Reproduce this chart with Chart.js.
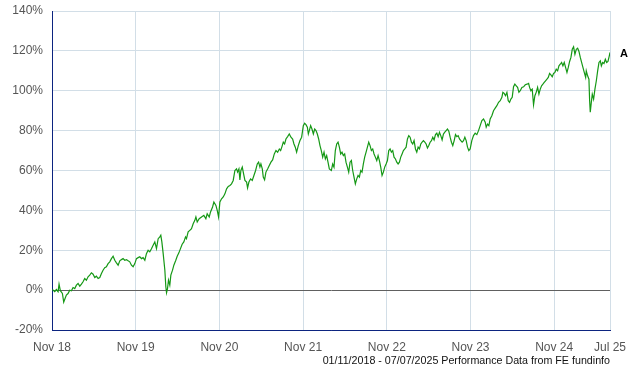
<!DOCTYPE html>
<html>
<head>
<meta charset="utf-8">
<script src="https://cdn.jsdelivr.net/npm/chart.js@4/dist/chart.umd.min.js"></script>
<style>
	body { margin: 0; background: #fff; }
	canvas { display: block; }
</style>
</head>
<body>
<canvas id="perfChart" width="640" height="370"></canvas>
<script>
// months since Nov 2018 (0 = Nov 18, 80 = Jul 25)
var months = [
	0.05, 0.39, 0.63, 0.87, 1.01, 1.20, 1.49, 1.68, 2.06, 2.30, 2.54, 2.78, 3.02, 3.26, 3.50, 3.74, 3.98, 4.22, 4.45, 4.69,
	4.93, 5.17, 5.41, 5.65, 5.89, 6.13, 6.37, 6.61, 6.85, 7.09, 7.32, 7.56, 7.80, 8.04, 8.28, 8.52, 8.76, 9.00, 9.24, 9.48,
	9.72, 9.96, 10.19, 10.43, 10.67, 10.91, 11.15, 11.39, 11.63, 11.87, 12.11, 12.35, 12.59, 12.83, 13.06, 13.31, 13.54, 13.78, 14.02, 14.26,
	14.50, 14.74, 14.98, 15.22, 15.46, 15.60, 15.75, 15.94, 16.18, 16.32, 16.42, 16.56, 16.70, 16.89, 17.04, 17.28, 17.47, 17.75, 17.95, 18.19,
	18.42, 18.66, 18.90, 19.14, 19.28, 19.52, 19.76, 20.00, 20.24, 20.48,
	20.63, 20.82, 21.10, 21.44, 21.77, 22.06, 22.25, 22.54, 22.73, 23.02, 23.21, 23.50, 23.69, 23.88, 24.07, 24.31, 24.55, 24.79, 25.03, 25.27,
	25.51, 25.74, 25.98, 26.22, 26.46, 26.61, 26.80, 26.94, 27.08, 27.28, 27.42, 27.66, 27.90, 28.04, 28.23, 28.47, 28.71, 28.95, 29.19, 29.43,
	29.62, 29.81, 29.95, 30.15, 30.29, 30.48, 30.67, 30.91, 31.15, 31.39, 31.63, 31.87, 32.11, 32.35, 32.59, 32.78, 32.97, 33.16, 33.35, 33.54,
	33.78, 34.02, 34.26, 34.50, 34.69, 34.88, 35.07, 35.31, 35.55, 35.79, 36.03, 36.22, 36.41, 36.61, 36.75, 36.89, 37.08, 37.27, 37.47, 37.66,
	37.85, 38.04, 38.23, 38.42, 38.61, 38.81, 39.00, 39.19, 39.38, 39.57, 39.76,
	40.05, 40.24, 40.43, 40.62, 40.82, 41.01, 41.20, 41.39, 41.58, 41.77, 41.96, 42.15, 42.35, 42.54, 42.73, 42.92, 43.11, 43.30, 43.49, 43.69,
	43.88, 44.07, 44.26, 44.45, 44.64, 44.83, 45.03, 45.22, 45.41, 45.60, 45.79, 45.98, 46.17, 46.36, 46.56, 46.75, 46.94, 47.13, 47.32, 47.51,
	47.70, 47.90, 48.09, 48.28, 48.47, 48.66, 48.85, 49.04, 49.24, 49.43, 49.62, 49.81, 50.00, 50.19, 50.38, 50.58, 50.77, 50.96, 51.15, 51.34,
	51.53, 51.72, 51.91, 52.11, 52.30, 52.49, 52.68, 52.87, 53.06, 53.25, 53.45, 53.64, 53.83, 54.02, 54.21, 54.40, 54.59, 54.78, 54.98, 55.17,
	55.36, 55.55, 55.74, 55.93, 56.12, 56.32, 56.51, 56.70, 56.89, 57.08, 57.27, 57.46, 57.66, 57.85, 58.04, 58.23, 58.42, 58.61, 58.80, 59.00,
	59.19, 59.38, 59.57, 59.76,
	59.95, 60.19, 60.43, 60.67, 60.91, 61.15, 61.39, 61.63, 61.87, 62.11, 62.25, 62.44, 62.63, 62.82, 63.06, 63.30, 63.54, 63.78, 64.02, 64.26,
	64.50, 64.64, 64.83, 65.02, 65.22, 65.41, 65.60, 65.79, 65.98, 66.17, 66.36, 66.56, 66.75, 66.94, 67.13, 67.37, 67.61, 67.85, 68.09, 68.33,
	68.47, 68.66, 68.85, 69.04, 69.23, 69.42, 69.62, 69.81, 70.00, 70.19, 70.38, 70.57, 70.76, 70.96, 71.15, 71.34, 71.53, 71.72, 71.91, 72.10,
	72.29, 72.49, 72.68, 72.87, 73.06, 73.25, 73.44, 73.63, 73.83, 74.02, 74.21, 74.40, 74.59, 74.78, 74.97, 75.17, 75.36, 75.55, 75.74, 75.93,
	76.12, 76.31, 76.51, 76.60, 76.79, 76.98, 77.08, 77.17, 77.32, 77.46, 77.65, 77.84, 78.04, 78.23, 78.42, 78.61, 78.76, 78.95, 79.14, 79.33,
	79.52, 79.71, 79.90, 80.00
];
// cumulative performance, %
var returns = [
	0.3, -0.8, 0.3, -0.8, 3.0, -0.3, -1.7, -6.0, -2.5, -1.7, 0, -0.3, 1.3, 0.8, 2.5, 3.3, 2.0, 3.0, 4.2, 5.8,
	5.0, 6.7, 7.5, 8.7, 8.0, 6.3, 7.0, 5.8, 6.3, 8.3, 10.0, 11.3, 11.7, 13.3, 14.2, 15.8, 17.0, 15.0, 13.7, 12.5,
	14.7, 15.3, 15.8, 15.0, 15.3, 14.7, 14.2, 12.5, 11.7, 13.3, 15.8, 16.3, 16.7, 15.8, 16.3, 15.0, 18.3, 20.0, 19.2, 20.8,
	22.5, 24.2, 20.8, 25.8, 26.7, 27.5, 24.2, 18.3, 10.0, 1.7, -1.3, 0.8, 5.0, 2.5, 7.5, 10.0, 12.5, 15.0, 17.0, 18.7,
	20.8, 23.0, 24.2, 26.7, 25.8, 29.2, 30.0, 30.8, 33.3, 35.0,
	36.7, 34.2, 35.8, 36.7, 37.5, 35.8, 38.3, 36.7, 39.2, 41.7, 44.2, 42.5, 40.0, 36.7, 44.2, 45.8, 46.7, 48.3, 50.8, 52.0,
	52.5, 53.3, 55.0, 60.0, 60.8, 59.2, 60.8, 55.3, 60.0, 61.7, 59.2, 55.0, 54.2, 51.3, 54.2, 55.8, 55.0, 57.5, 60.0, 63.3,
	64.2, 61.7, 63.3, 60.8, 56.7, 55.3, 59.2, 60.8, 62.5, 64.2, 65.3, 68.3, 70.0, 69.2, 70.8, 70.0, 72.0, 74.2, 73.3, 75.8,
	77.0, 78.3, 76.7, 75.8, 73.3, 71.7, 69.2, 72.5, 75.0, 76.7, 82.5, 83.7, 83.0, 81.7, 78.3, 80.0, 82.5, 80.8, 78.3, 80.8,
	80.0, 78.3, 75.8, 72.5, 70.0, 66.7, 69.2, 65.8, 67.5, 64.2, 60.8,
	60.0, 63.3, 61.7, 70.0, 73.3, 74.2, 71.7, 68.3, 69.2, 67.5, 68.3, 64.2, 61.7, 59.2, 64.2, 65.0, 60.0, 56.7, 53.3, 55.8,
	57.5, 56.7, 60.0, 59.2, 63.3, 66.7, 69.2, 71.7, 74.2, 72.5, 70.0, 70.8, 68.3, 66.7, 65.0, 67.5, 65.0, 61.7, 57.5, 59.2,
	61.7, 63.3, 65.0, 70.0, 70.8, 69.2, 70.0, 66.7, 65.8, 64.2, 63.3, 64.2, 66.7, 68.3, 70.0, 70.8, 71.7, 75.8, 77.5, 76.7,
	74.2, 73.3, 75.0, 70.8, 69.2, 71.7, 70.8, 73.3, 74.2, 75.0, 74.2, 73.3, 71.3, 72.5, 74.2, 75.0, 76.7, 75.3, 78.0, 78.7,
	77.0, 79.2, 77.5, 75.3, 78.3, 79.2, 80.0, 80.8, 79.7, 76.7, 74.2, 72.5, 75.0, 78.0, 77.0, 77.5, 75.8, 75.0, 74.2, 75.0,
	76.7, 75.0, 71.7, 70.0,
	70.8, 75.0, 77.5, 78.7, 78.0, 80.0, 82.5, 85.0, 85.8, 84.2, 81.7, 83.3, 82.5, 85.8, 87.5, 90.0, 91.3, 92.5, 94.2, 95.0,
	96.7, 99.2, 98.7, 97.5, 99.2, 95.0, 94.2, 95.8, 96.7, 102.0, 103.3, 102.5, 101.7, 99.2, 100.0, 101.7, 102.0, 103.0, 103.3, 103.7,
	101.7, 100.0, 100.8, 93.0, 97.5, 99.2, 101.7, 98.3, 100.8, 102.5, 103.3, 104.2, 105.0, 105.8, 106.7, 108.7, 108.0, 107.0, 108.7, 109.2,
	110.8, 110.0, 112.5, 113.3, 114.2, 112.5, 114.2, 111.7, 109.2, 111.7, 114.7, 116.7, 120.8, 122.0, 118.3, 120.8, 121.3, 119.7, 116.7, 114.2,
	111.7, 109.2, 106.7, 110.0, 107.5, 105.8, 95.0, 89.2, 94.2, 98.3, 95.8, 100.8, 105.0, 110.0, 114.2, 115.0, 112.5, 114.2, 113.7, 115.8,
	114.2, 114.7, 117.5, 119.2
];
var tickMonths = [0, 12, 24, 36, 48, 60, 72, 80];
var tickLabels = ["Nov 18", "Nov 19", "Nov 20", "Nov 21", "Nov 22", "Nov 23", "Nov 24", "Jul 25"];
var seriesName = "A";
var footText = "01/11/2018 - 07/07/2025 Performance Data from FE fundinfo";

var FONT = "'Liberation Sans', Arial, sans-serif";
var axisBlue = "#0c2480";
var gridCol = "#d2dee7";

var points = [];
for (var i = 0; i < months.length; i++) {
	points.push({x: months[i], y: returns[i]});
}

var labelsPlugin = {
	id: "extraText",
	afterDraw: function(chart) {
		var c = chart.ctx;
		var area = chart.chartArea;
		var ys = chart.scales.y;
		c.save();
		// series tag next to last point
		c.font = "bold 11px " + FONT;
		c.fillStyle = "#000";
		c.textAlign = "left";
		c.textBaseline = "middle";
		c.fillText(seriesName, area.right + 10, ys.getPixelForValue(returns[returns.length - 1]) + 1);
		// source line
		c.font = "10.7px " + FONT;
		c.fillStyle = "#111";
		c.textAlign = "right";
		c.fillText(footText, area.right, 361);
		c.restore();
	}
};

new Chart(document.getElementById("perfChart"), {
	type: "line",
	data: {
		datasets: [{
			label: seriesName,
			data: points,
			borderColor: "#159815",
			borderWidth: 1.2,
			pointRadius: 0,
			tension: 0,
			fill: false
		}]
	},
	options: {
		responsive: false,
		animation: false,
		layout: {padding: {top: 11, right: 30, left: 0, bottom: 0}},
		plugins: {legend: {display: false}, tooltip: {enabled: false}},
		scales: {
			x: {
				type: "linear",
				min: 0,
				max: 80,
				afterBuildTicks: function(scale) {
					scale.ticks = tickMonths.map(function(v) { return {value: v}; });
				},
				afterFit: function(scale) { scale.height = 40; },
				ticks: {
					autoSkip: false,
					maxRotation: 0,
					padding: 10,
					color: "#555",
					font: {family: FONT, size: 12},
					callback: function(v) { return tickLabels[tickMonths.indexOf(v)]; }
				},
				grid: {
					drawTicks: false,
					color: function(ctx) { return ctx.tick && ctx.tick.value === 0 ? axisBlue : gridCol; }
				},
				border: {color: axisBlue, width: 1}
			},
			y: {
				min: -20,
				max: 140,
				afterFit: function(scale) {
					scale.width = 52;
					scale.paddingTop = 0;
					scale.paddingBottom = 0;
				},
				ticks: {
					stepSize: 20,
					padding: 9,
					color: "#555",
					font: {family: FONT, size: 12},
					callback: function(v) { return v + "%"; }
				},
				grid: {
					drawTicks: false,
					color: function(ctx) {
						if (!ctx.tick) return gridCol;
						if (ctx.tick.value === 0) return "#606060";
						if (ctx.tick.value === -20) return axisBlue;
						return gridCol;
					}
				},
				border: {color: axisBlue, width: 1}
			}
		}
	},
	plugins: [labelsPlugin]
});
</script>
</body>
</html>
